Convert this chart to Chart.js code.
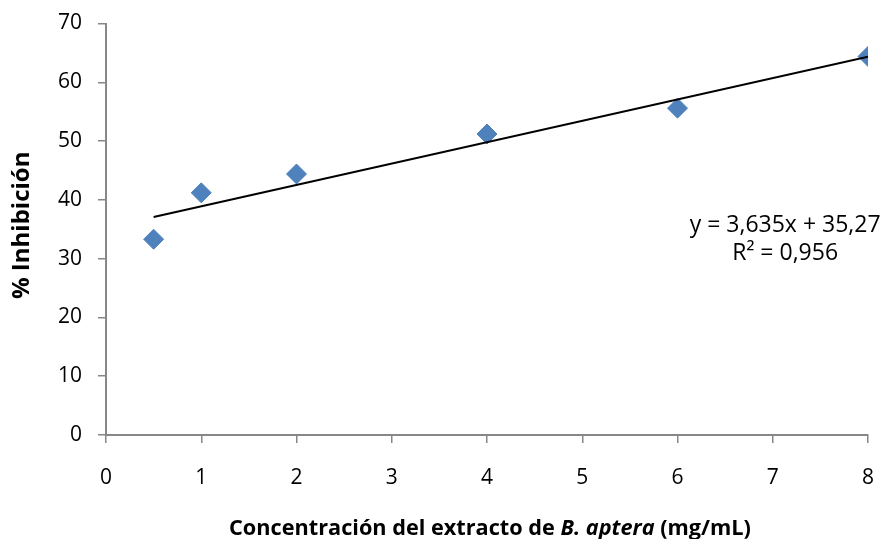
<!DOCTYPE html>
<html>
<head>
<meta charset="utf-8">
<script src="https://cdn.jsdelivr.net/npm/chart.js@4.4.1/dist/chart.umd.min.js"></script>
<style>
  html, body { margin: 0; padding: 0; background: #ffffff; }
  #wrap { width: 882px; height: 539px; }
</style>
</head>
<body>
<div id="wrap"><canvas id="c" width="882" height="539"></canvas></div>
<script>
// Extract concentration (mg/mL) and measured inhibition (%)
const concentrations = [0.5, 1, 2, 4, 6, 8];
const inhibition = [33.3, 41.2, 44.4, 51.2, 55.6, 64.4];

// Linear fit reported for the series
const fitSlope = 3.635;
const fitIntercept = 35.27;
const fitR2 = 0.956;

// Axis ticks
const xTicks = [0, 1, 2, 3, 4, 5, 6, 7, 8];
const yTicks = [0, 10, 20, 30, 40, 50, 60, 70];

const FONT = "'Open Sans', 'DejaVu Sans', sans-serif";
const AXIS_GREY = '#878787';
const MARKER_BLUE = '#4F81BD';

const fmt = (v, d) => v.toFixed(d).replace('.', ',');

// Trendline spans the measured concentration range
const xLo = Math.min(...concentrations);
const xHi = Math.max(...concentrations);
const trendPoints = [xLo, xHi].map(x => ({ x, y: fitSlope * x + fitIntercept }));

const labelsPlugin = {
  id: 'labels',
  afterDraw(chart) {
    const ctx = chart.ctx;
    const area = chart.chartArea;
    const xs = chart.scales.x;
    const ys = chart.scales.y;
    ctx.save();
    ctx.fillStyle = '#000';

    // Y-axis title
    ctx.save();
    ctx.translate(22, (area.top + area.bottom) / 2 - 4);
    ctx.rotate(-Math.PI / 2);
    ctx.font = 'bold 24px ' + FONT;
    ctx.textAlign = 'center';
    ctx.textBaseline = 'middle';
    ctx.fillText('% Inhibición', 0, 0);
    ctx.restore();

    // X-axis title with the species name in italics
    const parts = [
      { t: 'Concentración del extracto de ', f: 'bold 21.7px ' + FONT },
      { t: 'B. aptera', f: 'italic bold 21.7px ' + FONT },
      { t: ' (mg/mL)', f: 'bold 21.7px ' + FONT }
    ];
    let total = 0;
    parts.forEach(p => { ctx.font = p.f; p.w = ctx.measureText(p.t).width; total += p.w; });
    let px = (area.left + area.right) / 2 + 3 - total / 2;
    ctx.textAlign = 'left';
    ctx.textBaseline = 'alphabetic';
    parts.forEach(p => { ctx.font = p.f; ctx.fillText(p.t, px, 535); px += p.w; });

    // Regression equation and R²
    ctx.font = '23px ' + FONT;
    ctx.textAlign = 'center';
    const ex = xs.getPixelForValue(7.13);
    ctx.fillText('y = ' + fmt(fitSlope, 3) + 'x + ' + fmt(fitIntercept, 2), ex, ys.getPixelForValue(34.6));
    ctx.fillText('R² = ' + fmt(fitR2, 3), ex, ys.getPixelForValue(29.8));
    ctx.restore();
  }
};

new Chart(document.getElementById('c'), {
  type: 'scatter',
  data: {
    datasets: [
      {
        type: 'line',
        label: 'Lineal',
        data: trendPoints,
        borderColor: '#000000',
        borderWidth: 1.9,
        pointRadius: 0,
        fill: false,
        tension: 0
      },
      {
        label: '% Inhibición',
        data: concentrations.map((x, i) => ({ x, y: inhibition[i] })),
        pointStyle: 'rectRot',
        pointRadius: 10,
        pointHoverRadius: 10,
        backgroundColor: MARKER_BLUE,
        borderColor: MARKER_BLUE,
        borderWidth: 1
      }
    ]
  },
  options: {
    responsive: false,
    animation: false,
    layout: { padding: { top: 23.5, right: 14, left: 0, bottom: 0 } },
    plugins: { legend: { display: false }, tooltip: { enabled: false } },
    scales: {
      x: {
        type: 'linear',
        min: xTicks[0],
        max: xTicks[xTicks.length - 1],
        afterBuildTicks: s => { s.ticks = xTicks.map(v => ({ value: v })); },
        afterFit: s => { s.height = 104; s.paddingLeft = 0; s.paddingRight = 0; },
        grid: { drawOnChartArea: false, drawTicks: true, tickLength: 8, color: AXIS_GREY, lineWidth: 1.5 },
        border: { color: AXIS_GREY, width: 2 },
        ticks: { color: '#000', font: { family: FONT, size: 21 }, padding: 22, maxRotation: 0 }
      },
      y: {
        type: 'linear',
        min: yTicks[0],
        max: yTicks[yTicks.length - 1],
        afterBuildTicks: s => { s.ticks = yTicks.map(v => ({ value: v })); },
        afterFit: s => { s.width = 106; s.paddingTop = 0; s.paddingBottom = 0; },
        grid: { drawOnChartArea: false, drawTicks: true, tickLength: 8, color: AXIS_GREY, lineWidth: 1.5 },
        border: { color: AXIS_GREY, width: 2 },
        ticks: { color: '#000', font: { family: FONT, size: 21 }, padding: 16 }
      }
    }
  },
  plugins: [labelsPlugin]
});
</script>
</body>
</html>
